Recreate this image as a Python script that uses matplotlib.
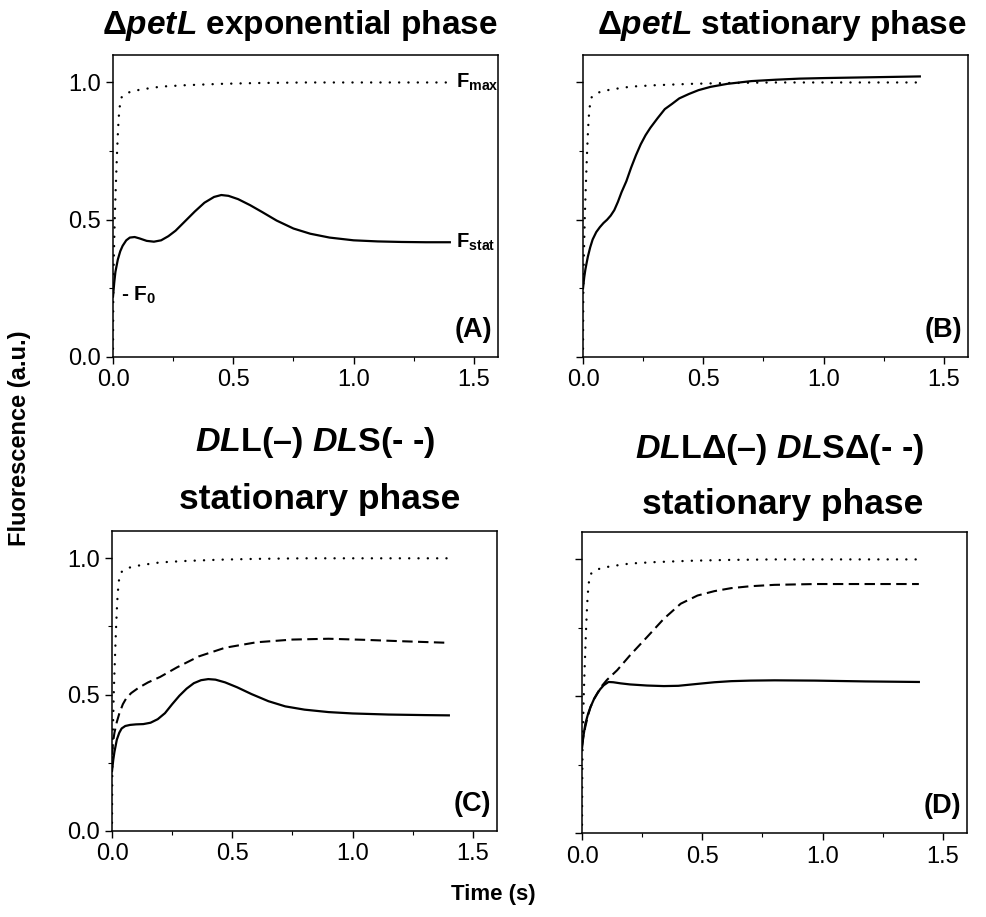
import matplotlib
matplotlib.use('Agg')
import matplotlib.pyplot as plt
from matplotlib.ticker import MultipleLocator

plt.rcParams['font.family'] = 'Liberation Sans'
plt.rcParams['mathtext.fontset'] = 'custom'
plt.rcParams['mathtext.rm'] = 'Liberation Sans:bold'
plt.rcParams['mathtext.bf'] = 'Liberation Sans:bold'
plt.rcParams['mathtext.it'] = 'Liberation Sans:italic:bold'

# Fmax reference trace (dotted), same in every panel
t_fmax = [0, 0.001, 0.002, 0.005, 0.007, 0.01, 0.014, 0.017, 0.021, 0.024, 0.029, 0.035,
          0.045, 0.06, 0.08, 0.12, 0.2, 0.3, 0.45, 0.6, 0.8, 1.0, 1.2, 1.4]
fmax = [0.03, 0.2, 0.3, 0.42, 0.5, 0.58, 0.68, 0.75, 0.83, 0.875, 0.92, 0.945,
        0.955, 0.962, 0.968, 0.975, 0.985, 0.99, 0.995, 0.998, 1.0, 1.0, 1.0, 1.0]

# (A) dpetL exponential phase
t_a = [0, 0.005, 0.01, 0.02, 0.03, 0.04, 0.055, 0.07, 0.09, 0.11, 0.14, 0.17, 0.2, 0.23,
       0.26, 0.3, 0.34, 0.38, 0.42, 0.45, 0.48, 0.52, 0.57, 0.62, 0.68, 0.75, 0.82, 0.9,
       1.0, 1.1, 1.2, 1.3, 1.4]
f_a = [0.22, 0.27, 0.31, 0.355, 0.385, 0.405, 0.425, 0.435, 0.437, 0.432, 0.423, 0.42,
       0.425, 0.44, 0.46, 0.495, 0.53, 0.562, 0.583, 0.59, 0.587, 0.575, 0.553, 0.528,
       0.497, 0.468, 0.449, 0.435, 0.425, 0.421, 0.419, 0.418, 0.418]

# (B) dpetL stationary phase
t_b = [0, 0.005, 0.01, 0.02, 0.03, 0.04, 0.055, 0.07, 0.085, 0.1, 0.115, 0.13, 0.145,
       0.16, 0.18, 0.2, 0.22, 0.24, 0.26, 0.28, 0.31, 0.34, 0.37, 0.4, 0.44, 0.48, 0.53,
       0.6, 0.7, 0.8, 0.9, 1.0, 1.2, 1.4]
f_b = [0.25, 0.29, 0.32, 0.365, 0.4, 0.428, 0.455, 0.473, 0.488, 0.5, 0.515, 0.535,
       0.565, 0.6, 0.64, 0.69, 0.735, 0.775, 0.808, 0.835, 0.87, 0.903, 0.922, 0.942,
       0.958, 0.972, 0.984, 0.995, 1.005, 1.01, 1.014, 1.016, 1.019, 1.022]

# (C) DLL solid / DLS dashed
t_c_dls = [0, 0.005, 0.01, 0.02, 0.03, 0.045, 0.06, 0.08, 0.11, 0.15, 0.2, 0.27, 0.36,
           0.47, 0.6, 0.75, 0.9, 1.05, 1.2, 1.4]
f_c_dls = [0.28, 0.33, 0.36, 0.4, 0.43, 0.465, 0.488, 0.506, 0.525, 0.545, 0.565, 0.6,
           0.64, 0.672, 0.692, 0.702, 0.705, 0.701, 0.696, 0.69]
t_c_dll = [0, 0.005, 0.01, 0.02, 0.03, 0.04, 0.055, 0.075, 0.1, 0.13, 0.16, 0.19, 0.22,
           0.25, 0.28, 0.31, 0.34, 0.37, 0.4, 0.43, 0.47, 0.52, 0.58, 0.65, 0.72, 0.8,
           0.9, 1.0, 1.15, 1.3, 1.4]
f_c_dll = [0.22, 0.26, 0.29, 0.335, 0.36, 0.376, 0.385, 0.389, 0.391, 0.392, 0.397, 0.41,
           0.432, 0.465, 0.496, 0.522, 0.542, 0.553, 0.557, 0.555, 0.545, 0.527, 0.502,
           0.476, 0.457, 0.445, 0.436, 0.431, 0.427, 0.425, 0.424]

# (D) DLL-delta solid / DLS-delta dashed
t_d_dls = [0, 0.005, 0.014, 0.025, 0.035, 0.05, 0.063, 0.08, 0.104, 0.146, 0.2, 0.27,
           0.34, 0.41, 0.48, 0.55, 0.62, 0.7, 0.8, 0.97, 1.2, 1.4]
f_d_dls = [0.32, 0.35, 0.39, 0.43, 0.46, 0.49, 0.51, 0.535, 0.56, 0.595, 0.65, 0.716,
           0.783, 0.838, 0.868, 0.884, 0.895, 0.902, 0.907, 0.91, 0.91, 0.91]
t_d_dll = [0, 0.005, 0.014, 0.025, 0.035, 0.05, 0.063, 0.075, 0.09, 0.11, 0.13, 0.16,
           0.2, 0.27, 0.34, 0.4, 0.48, 0.55, 0.62, 0.7, 0.8, 0.97, 1.18, 1.4]
f_d_dll = [0.31, 0.35, 0.4, 0.435, 0.46, 0.49, 0.509, 0.525, 0.54, 0.552, 0.551, 0.547,
           0.543, 0.539, 0.537, 0.538, 0.545, 0.551, 0.555, 0.557, 0.558, 0.557, 0.554,
           0.552]

fig = plt.figure(figsize=(9.87, 9.17), dpi=100)

axA = fig.add_axes([0.1145, 0.6107, 0.390, 0.3293])
axB = fig.add_axes([0.5907, 0.6107, 0.390, 0.3293])
axC = fig.add_axes([0.1135, 0.0938, 0.390, 0.3271])
axD = fig.add_axes([0.5897, 0.0916, 0.390, 0.3282])

dot = dict(color='black', lw=1.7, linestyle=(0, (0.05, 3.9)), dash_capstyle='round')
solid = dict(color='black', lw=1.6)
dash = dict(color='black', lw=1.5, linestyle=(0, (5, 2.6)))

axA.plot(t_fmax, fmax, **dot)
axA.plot(t_a, f_a, **solid)
axB.plot(t_fmax, fmax, **dot)
axB.plot(t_b, f_b, **solid)
axC.plot(t_fmax, fmax, **dot)
axC.plot(t_c_dls, f_c_dls, **dash)
axC.plot(t_c_dll, f_c_dll, **solid)
axD.plot(t_fmax, fmax, **dot)
axD.plot(t_d_dls, f_d_dls, **dash)
axD.plot(t_d_dll, f_d_dll, **solid)

for ax, lab in zip([axA, axB, axC, axD], ['(A)', '(B)', '(C)', '(D)']):
    ax.set_xlim(0, 1.6)
    ax.set_ylim(0, 1.1)
    ax.xaxis.set_major_locator(MultipleLocator(0.5))
    ax.xaxis.set_minor_locator(MultipleLocator(0.25))
    ax.yaxis.set_major_locator(MultipleLocator(0.5))
    ax.yaxis.set_minor_locator(MultipleLocator(0.25))
    ax.tick_params(which='major', direction='out', length=5, width=1, labelsize=17, pad=4)
    ax.tick_params(which='minor', direction='out', length=3, width=0.8)
    for s in ax.spines.values():
        s.set_linewidth(1.1)
    ax.text(0.985, 0.09, lab, transform=ax.transAxes, ha='right', va='center',
            fontsize=19.5, fontweight='bold')

axB.tick_params(labelleft=False)
axD.tick_params(labelleft=False)

axA.text(1.425, 1.0, r'F$_{\mathrm{max}}$', ha='left', va='center', fontsize=14.5, fontweight='bold')
axA.text(1.425, 0.418, r'F$_{\mathrm{stat}}$', ha='left', va='center', fontsize=14.5, fontweight='bold')
axA.text(0.035, 0.225, r'- F$_{\mathrm{0}}$', ha='left', va='center', fontsize=15, fontweight='bold')

fig.text(0.304, 0.972, r'Δ$\mathit{petL}$ exponential phase', ha='center', va='center',
         fontsize=24, fontweight='bold')
fig.text(0.792, 0.972, r'Δ$\mathit{petL}$ stationary phase', ha='center', va='center',
         fontsize=24, fontweight='bold')
fig.text(0.319, 0.517, r'$\mathit{DL}$L(–) $\mathit{DL}$S(- -)', ha='center', va='center',
         fontsize=24.5, fontweight='bold')
fig.text(0.324, 0.455, 'stationary phase', ha='center', va='center',
         fontsize=25.5, fontweight='bold')
fig.text(0.79, 0.510, r'$\mathit{DL}$LΔ(–) $\mathit{DL}$SΔ(- -)', ha='center', va='center',
         fontsize=24.5, fontweight='bold')
fig.text(0.793, 0.450, 'stationary phase', ha='center', va='center',
         fontsize=25.5, fontweight='bold')

fig.text(0.02, 0.522, 'Fluorescence (a.u.)', rotation=90, ha='center', va='center',
         fontsize=17, fontweight='bold')
fig.text(0.5, 0.024, 'Time (s)', ha='center', va='center', fontsize=16, fontweight='bold')

fig.savefig('out.png', dpi=100)
